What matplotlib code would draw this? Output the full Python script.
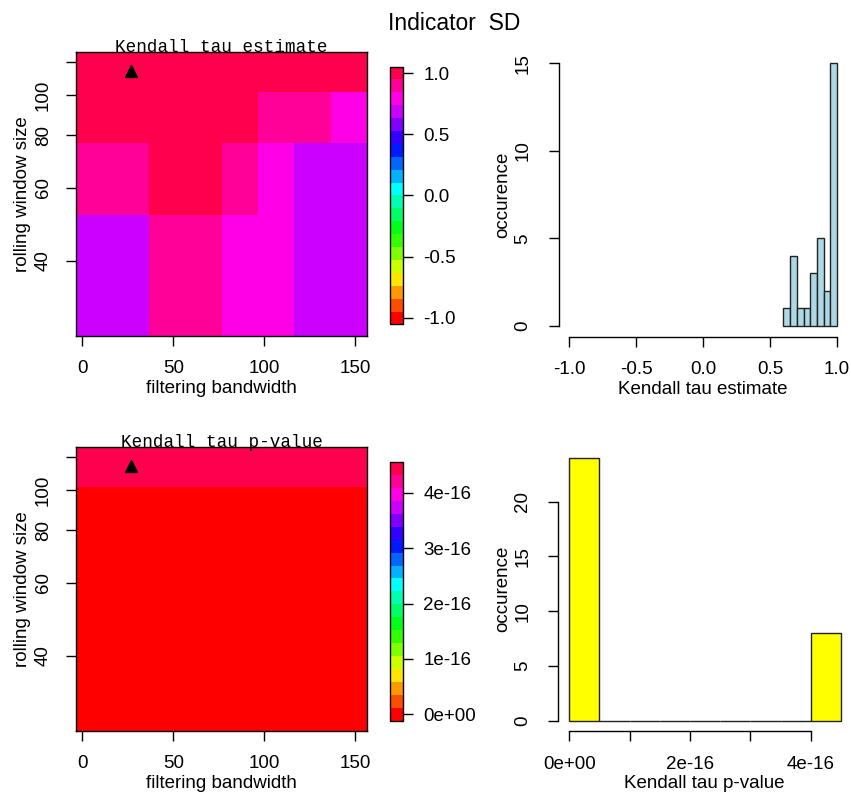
import numpy as np
import matplotlib
matplotlib.use("Agg")
import matplotlib.pyplot as plt
from matplotlib import colors

plt.rcParams['font.family'] = ['Liberation Sans', 'DejaVu Sans']

# grid of the sensitivity analysis
bandwidths = [6.5, 26.5, 46.5, 66.5, 86.5, 106.5, 126.5, 146.5]
winsizes = [39, 64, 89, 114]

# Kendall tau estimate, one list per window size (bottom row first)
tau_39 = [0.67, 0.64, 0.87, 0.88, 0.82, 0.81, 0.69, 0.68]
tau_64 = [0.89, 0.895, 0.96, 0.97, 0.93, 0.83, 0.695, 0.72]
tau_89 = [0.98, 0.99, 0.99, 0.98, 0.97, 0.86, 0.92, 0.78]
tau_114 = [0.99, 0.98, 0.99, 0.99, 0.98, 0.97, 0.96, 0.99]

# Kendall tau p-value
p_39 = [0.0] * 8
p_64 = [0.0] * 8
p_89 = [0.0] * 8
p_114 = [4.44e-16] * 8

# parameters marked with the triangle
chosen_bw = bandwidths[1]
chosen_ws = winsizes[3]

tau = np.array([tau_39, tau_64, tau_89, tau_114])
pval = np.array([p_39, p_64, p_89, p_114])

tau_ticks = [-1.0, -0.5, 0.0, 0.5, 1.0]
tau_ticklabels = ['-1.0', '-0.5', '0.0', '0.5', '1.0']
p_ticks = [0, 1e-16, 2e-16, 3e-16, 4e-16]
p_cb_labels = ['0e+00', '1e-16', '2e-16', '3e-16', '4e-16']
p_hist_labels = ['0e+00', '', '2e-16', '', '4e-16']


def edges(c):
    c = np.asarray(c, float)
    mid = (c[:-1] + c[1:]) / 2
    return np.concatenate([[2 * c[0] - mid[0]], mid, [2 * c[-1] - mid[-1]]])


# R rainbow(20)
rainbow = colors.ListedColormap([colors.hsv_to_rgb((h, 1, 1)) for h in np.arange(20) / 20])


def level_norm(lo, hi):
    d = (hi - lo) / 19
    return colors.BoundaryNorm(np.linspace(lo - d / 2, hi + d / 2, 21), 20)


tau_norm = level_norm(-1, 1)
p_norm = level_norm(0, pval.max())

W, H = 851, 792
fig = plt.figure(figsize=(W / 100, H / 100), dpi=100)


def box(x0, y0, x1, y1):
    return [x0 / W, 1 - y1 / H, (x1 - x0) / W, (y1 - y0) / H]


FS = 13.5
TL = 7.5

fig.text(454 / W, 1 - 24 / H, 'Indicator  SD', ha='center', va='center', fontsize=16.5)


def heatmap(rect, cbrect, z, norm, title, cticks, clabels):
    ax = fig.add_axes(rect)
    ax.pcolormesh(edges(bandwidths), edges(winsizes), z, cmap=rainbow, norm=norm)
    ax.set_yscale('log')
    ax.set_xlim(edges(bandwidths)[0], edges(bandwidths)[-1])
    ax.set_ylim(edges(winsizes)[0], edges(winsizes)[-1])
    ax.plot([chosen_bw], [chosen_ws], marker='^', color='black', markersize=8)
    ax.set_xticks([0, 50, 100, 150])
    ax.set_yticks([40, 60, 80, 100, 120])
    ax.yaxis.set_minor_locator(matplotlib.ticker.NullLocator())
    ax.set_yticklabels(['40', '60', '80', '100', ''], rotation=90, va='center')
    ax.tick_params(axis='x', direction='out', length=TL, width=1, labelsize=FS, pad=10)
    ax.tick_params(axis='y', direction='out', length=TL, width=1, labelsize=FS, pad=10)
    ax.set_xlabel('filtering bandwidth', fontsize=FS, labelpad=2)
    ax.set_ylabel('rolling window size', fontsize=FS, labelpad=3)
    for s in ax.spines.values():
        s.set_linewidth(1)
    ax.text(0.5, 1.0, title, transform=ax.transAxes, ha='center', va='baseline',
            fontsize=12.7, family='Liberation Mono')

    cax = fig.add_axes(cbrect)
    sm = matplotlib.cm.ScalarMappable(norm=norm, cmap=rainbow)
    cb = fig.colorbar(sm, cax=cax, ticks=cticks)
    cb.ax.set_yticklabels(clabels)
    cb.outline.set_linewidth(1)
    cb.ax.tick_params(direction='out', length=TL, width=1, labelsize=FS, pad=7)
    cb.ax.yaxis.set_minor_locator(matplotlib.ticker.NullLocator())
    return ax


heatmap(box(76, 52.3, 367, 335.7), box(390, 66.6, 403.3, 324.4), tau, tau_norm,
        'Kendall tau estimate', tau_ticks, tau_ticklabels)
heatmap(box(76, 447.3, 367, 730.7), box(390, 462.2, 403.3, 720.5), pval, p_norm,
        'Kendall tau p-value', p_ticks, p_cb_labels)


def r_hist(rect, values, bins, color, xlim, ylim, xticks, xlabels, yticks, xlabel):
    ax = fig.add_axes(rect)
    counts, be = np.histogram(values, bins=bins)
    ax.bar(be[:-1], counts, width=np.diff(be), align='edge', color=color,
           edgecolor='#222222', linewidth=1)
    ax.set_xlim(*xlim)
    ax.set_ylim(*ylim)
    ax.set_xticks(xticks)
    ax.set_xticklabels(xlabels)
    ax.set_yticks(yticks)
    ax.set_yticklabels([str(t) for t in yticks], rotation=90, va='center')
    for s in ['top', 'right']:
        ax.spines[s].set_visible(False)
    ax.spines['left'].set_bounds(yticks[0], yticks[-1])
    ax.spines['bottom'].set_bounds(xticks[0], xticks[-1])
    for s in ['left', 'bottom']:
        ax.spines[s].set_linewidth(1)
    ax.patch.set_alpha(0)
    ax.tick_params(axis='x', direction='out', length=TL, width=1, labelsize=FS, pad=10)
    ax.tick_params(axis='y', direction='out', length=TL, width=1, labelsize=FS, pad=12)
    ax.set_xlabel(xlabel, fontsize=FS, labelpad=2)
    ax.set_ylabel('occurence', fontsize=FS, labelpad=2)
    return ax


r_hist(box(558.6, 52.8, 847.7, 336.5), tau.ravel(), np.linspace(0.6, 1.0, 9), '#ADD8E6',
       (-1.08, 1.08), (-0.6, 15.6), tau_ticks, tau_ticklabels, [0, 5, 10, 15],
       'Kendall tau estimate')
r_hist(box(558.4, 447.4, 851, 731.2), pval.ravel(), np.linspace(0, 4.5e-16, 10), '#FFFF00',
       (-0.18e-16, 4.664e-16), (-0.96, 24.96), p_ticks, p_hist_labels, [0, 5, 10, 15, 20],
       'Kendall tau p-value')

fig.savefig('out.png', dpi=100)
